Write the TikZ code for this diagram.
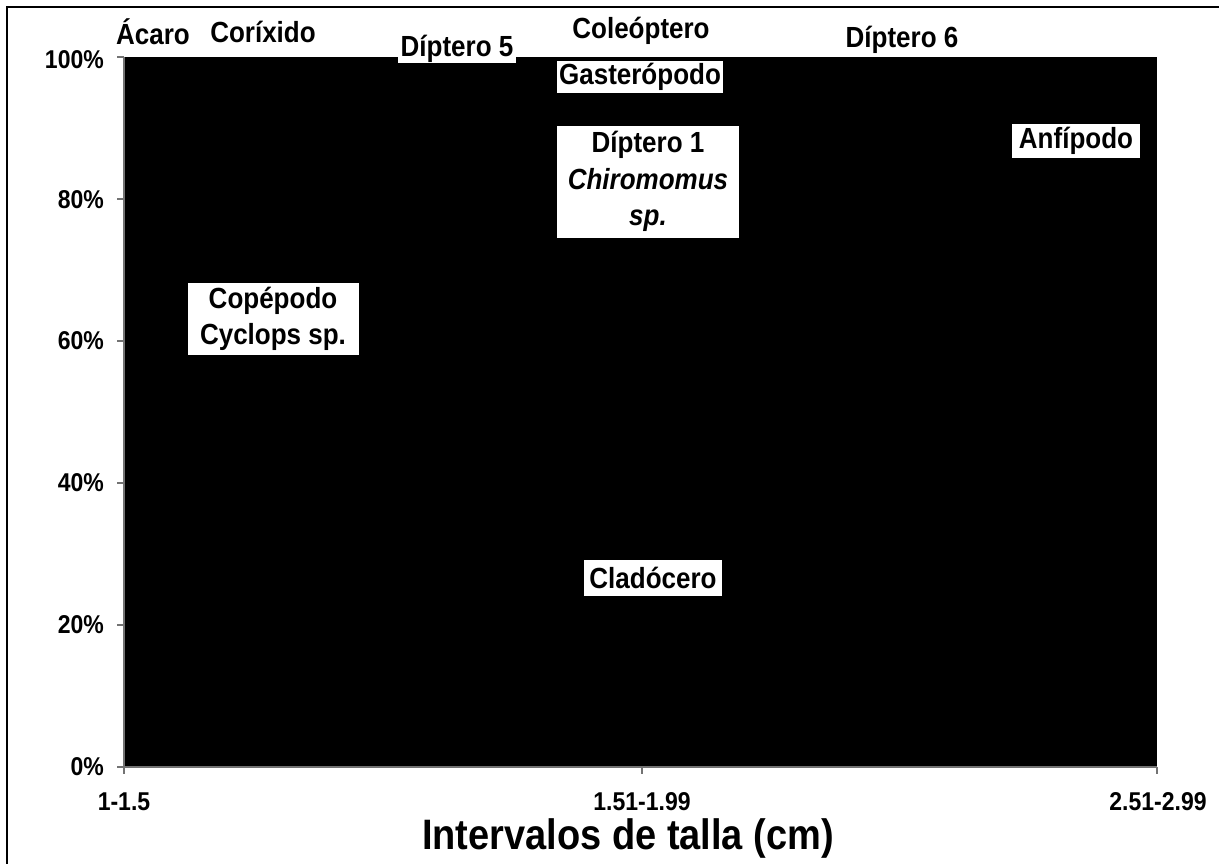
\documentclass[tikz,border=0pt]{standalone}
\usepackage{fontspec}
\usepackage{graphicx}
\setmainfont{Liberation Sans}
\newcommand{\vstr}[1]{\scalebox{1}[1.12]{#1}}
\newcommand{\mlines}[1]{\vstr{\begin{tabular}{@{}c@{}}#1\end{tabular}}}
\begin{document}
\begin{tikzpicture}[x=1pt,y=-1pt,
  lbl/.style={font=\bfseries\fontsize{26}{32.5}\selectfont, inner sep=0pt, align=center},
  boxlbl/.style={lbl, fill=white},
  ticklbl/.style={font=\bfseries\fontsize{23}{26}\selectfont, inner sep=0pt},
  axisline/.style={draw=black!55, line width=1.2pt}]
\useasboundingbox (0,0) rectangle (1219,864);
% outer frame (top and left edges visible)
\draw[line width=1.5pt] (7,870) -- (7,7) -- (1225,7);
% plot area
\fill[black] (124,57) rectangle (1157,767);
% axes
\draw[axisline] (124,57) -- (124,767) -- (1157,767);
\foreach \y in {57,199,341,483,625,767} \draw[axisline] (117,\y) -- (124,\y);
\foreach \x in {124,642,1157} \draw[axisline] (\x,767) -- (\x,774);
% y tick labels
\node[ticklbl, anchor=east] (y100) at (104,60) {\vstr{100\%}};
\node[ticklbl, anchor=east] (y80) at (104,200) {\vstr{80\%}};
\node[ticklbl, anchor=east] (y60) at (104,341) {\vstr{60\%}};
\node[ticklbl, anchor=east] (y40) at (104,483) {\vstr{40\%}};
\node[ticklbl, anchor=east] (y20) at (104,625) {\vstr{20\%}};
\node[ticklbl, anchor=east] (y0) at (104,767) {\vstr{0\%}};
% x tick labels
\node[ticklbl] (x1) at (124,802) {\vstr{1-1.5}};
\node[ticklbl] (x2) at (642,802) {\vstr{1.51-1.99}};
\node[ticklbl] (x3) at (1158,802) {\vstr{2.51-2.99}};
\node[font=\bfseries\fontsize{38}{40}\selectfont, inner sep=0pt] (xtitle) at (628,838) {\vstr{Intervalos de talla (cm)}};
% data labels
\node[lbl] (acaro) at (153,32) {\vstr{Ácaro}};
\node[lbl] (corix) at (263,32) {\vstr{Coríxido}};
\node[lbl] (coleo) at (641,31) {\vstr{Coleóptero}};
\node[lbl] (dip6) at (902,40) {\vstr{Díptero 6}};
\node[boxlbl, minimum width=118pt, minimum height=28pt] (dip5) at (457,49) {\vstr{Díptero 5}};
\node[boxlbl, minimum width=166pt, minimum height=32pt] (gast) at (640,77) {\vstr{Gasterópodo}};
\node[boxlbl, minimum width=128pt, minimum height=34pt] (anfi) at (1076,141) {\vstr{Anfípodo}};
\node[boxlbl, minimum width=182pt, minimum height=112pt] (dip1) at (648,182) {\mlines{Díptero 1\\\itshape Chiromomus\\\itshape sp.}};
\node[boxlbl, minimum width=171pt, minimum height=72pt] (cope) at (273,319) {\mlines{Copépodo\\Cyclops sp.}};
\node[boxlbl, minimum width=138pt, minimum height=36pt] (clado) at (653,578) {\vstr{Cladócero}};
\end{tikzpicture}
\end{document}
